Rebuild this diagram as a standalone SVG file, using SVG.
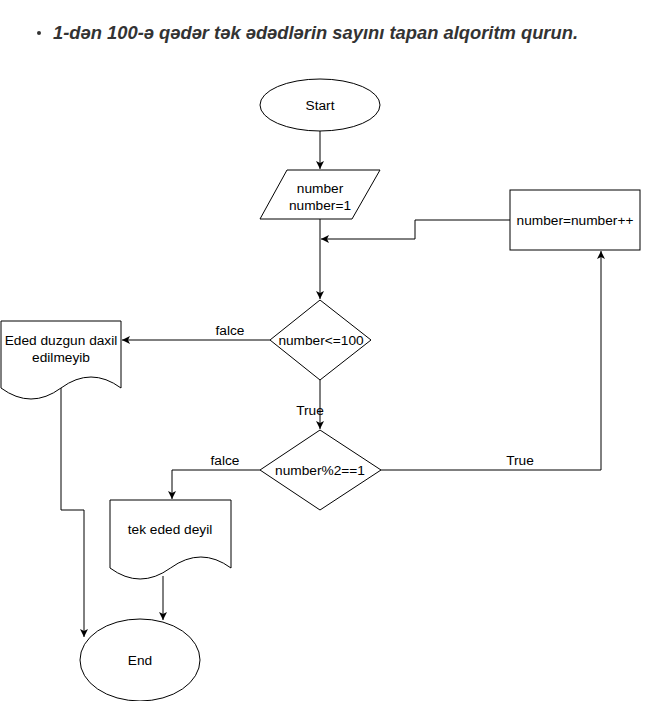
<svg xmlns="http://www.w3.org/2000/svg" width="671" height="701" viewBox="0 0 671 701">
<style>
.s{fill:#fff;stroke:#000;stroke-width:1}
.t{font-family:"Liberation Sans",Arial,sans-serif;font-size:13.7px;fill:#000;text-anchor:middle}
.c{fill:none;stroke:#000;stroke-width:1}
.title{font-family:"Liberation Sans",Arial,sans-serif;font-size:18px;font-weight:bold;font-style:italic;fill:#333}
</style>
<defs>
<marker id="a" markerWidth="10" markerHeight="10" refX="8" refY="4" orient="auto" markerUnits="userSpaceOnUse">
<path d="M0,0 L8,4 L0,8 L2,4 Z" fill="#000"/>
</marker>
</defs>
<rect width="671" height="701" fill="#fff"/>
<circle cx="39" cy="33" r="2" fill="#333"/>
<text class="title" x="53" y="39" textLength="525" lengthAdjust="spacingAndGlyphs">1-dən 100-ə qədər tək ədədlərin sayını tapan alqoritm qurun.</text>
<g id="connectors">
<path class="c" d="M320,131 V169" marker-end="url(#a)"/>
<path class="c" d="M320,219 V299" marker-end="url(#a)"/>
<path class="c" d="M510,220 H415 V239 H321" marker-end="url(#a)"/>
<path class="c" d="M270,340 H122" marker-end="url(#a)"/>
<path class="c" d="M320,380 V429" marker-end="url(#a)"/>
<path class="c" d="M381,470 H601 V251" marker-end="url(#a)"/>
<path class="c" d="M260,470 H172 V499" marker-end="url(#a)"/>
<path class="c" d="M61,388 V510 H84 V637" marker-end="url(#a)"/>
<path class="c" d="M163,576 V620" marker-end="url(#a)"/>
<text class="t" x="230" y="335">falce</text>
<text class="t" x="310" y="415">True</text>
<text class="t" x="225" y="465">falce</text>
<text class="t" x="520" y="465">True</text>
</g>
<g id="start">
<ellipse class="s" cx="320" cy="105" rx="60" ry="26"/>
<text class="t" x="320" y="110">Start</text>
</g>
<g id="input">
<polygon class="s" points="287,170 380,170 352,219 260,219"/>
<text class="t" x="320" y="193">number</text>
<text class="t" x="320" y="210">number=1</text>
</g>
<g id="increment">
<rect class="s" x="510" y="190" width="130" height="60"/>
<text class="t" x="575" y="225">number=number++</text>
</g>
<g id="cond1">
<polygon class="s" points="320,300 371,340 320,380 270,340"/>
<text class="t" x="321" y="345">number&lt;=100</text>
</g>
<g id="doc1">
<path class="s" d="M1,321 H121 V388 Q91,366 61,388 Q31,410 1,388 Z"/>
<text class="t" x="61" y="345">Eded duzgun daxil</text>
<text class="t" x="61" y="362">edilmeyib</text>
</g>
<g id="cond2">
<polygon class="s" points="320,430 381,470 320,510 260,470"/>
<text class="t" x="320" y="475">number%2==1</text>
</g>
<g id="doc2">
<path class="s" d="M110,500 H231 V568 Q201,546 170.5,568 Q140,590 110,568 Z"/>
<text class="t" x="170" y="534">tek eded deyil</text>
</g>
<g id="end">
<ellipse class="s" cx="140" cy="660" rx="60" ry="41"/>
<text class="t" x="140" y="665">End</text>
</g>
</svg>
